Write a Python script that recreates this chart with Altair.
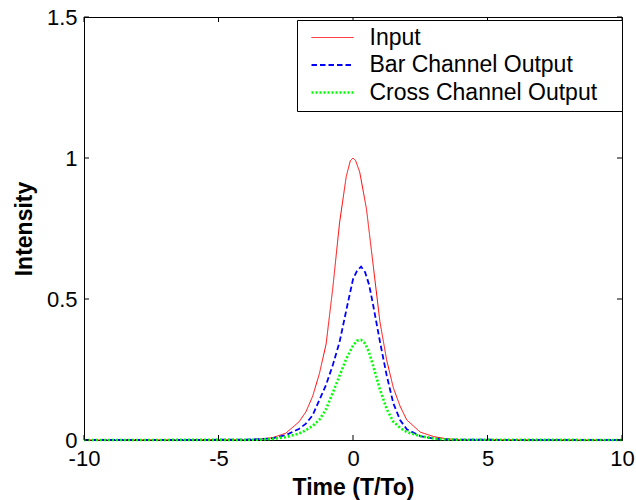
import altair as alt
import pandas as pd

series_names = ["Input", "Bar Channel Output", "Cross Channel Output"]
series_colors = ["#ff0000", "#0000ff", "#00ff00"]

x_ticks = [-10, -5, 0, 5, 10]
y_ticks = [0, 0.5, 1, 1.5]

input_t = [-10, -4, -3.5, -3, -2.5, -2, -1.75, -1.5, -1.25, -1, -0.75, -0.5, -0.25, -0.1, 0,
           0.1, 0.25, 0.5, 0.75, 1, 1.25, 1.5, 1.75, 2, 2.5, 3, 3.5, 4, 10]
input_y = [0, 0.001, 0.003, 0.008, 0.024, 0.065, 0.10, 0.155, 0.235, 0.34, 0.54, 0.77, 0.935, 0.99, 1.0,
           0.99, 0.95, 0.82, 0.62, 0.42, 0.284, 0.185, 0.12, 0.071, 0.028, 0.012, 0.004, 0.001, 0]

bar_t = [-10, -4, -3.5, -3, -2.5, -2, -1.75, -1.5, -1.25, -1, -0.75, -0.5, -0.25, 0, 0.15,
         0.3, 0.45, 0.6, 0.75, 1, 1.25, 1.5, 1.75, 2, 2.5, 3, 3.5, 4, 10]
bar_y = [0, 0.001, 0.003, 0.006, 0.017, 0.04, 0.058, 0.088, 0.142, 0.196, 0.266, 0.347, 0.46, 0.57, 0.60,
         0.615, 0.595, 0.55, 0.478, 0.35, 0.23, 0.13, 0.071, 0.038, 0.014, 0.005, 0.002, 0.001, 0]

cross_t = [-10, -4, -3.5, -3, -2.5, -2, -1.75, -1.5, -1.25, -1, -0.75, -0.5, -0.25, 0, 0.15,
           0.3, 0.45, 0.6, 0.75, 1, 1.25, 1.5, 1.75, 2, 2.5, 3, 3.5, 4, 10]
cross_y = [0, 0.0005, 0.001, 0.004, 0.01, 0.023, 0.035, 0.05, 0.072, 0.11, 0.168, 0.228, 0.288, 0.335, 0.352,
           0.355, 0.342, 0.31, 0.263, 0.18, 0.11, 0.065, 0.043, 0.028, 0.014, 0.005, 0.002, 0.001, 0]

rows = []
for name, ts, ys in [(series_names[0], input_t, input_y),
                     (series_names[1], bar_t, bar_y),
                     (series_names[2], cross_t, cross_y)]:
    for i, (t, y) in enumerate(zip(ts, ys)):
        rows.append({"t": t, "y": y, "series": name, "order": i})
df = pd.DataFrame(rows)

W, H = 538, 423
FONT = "Liberation Sans"

x_scale = alt.Scale(domain=[-10, 10], nice=False, zero=False)
y_scale = alt.Scale(domain=[0, 1.5], nice=False, zero=False)

x_axis = alt.Axis(values=x_ticks, title="Time (T/To)", labelExpr="'' + datum.value",
                  ticks=False, tickSize=0, grid=False, labelPadding=8, labelFlush=False,
                  labelOverlap=False,
                  titleX=W / 2, titleY=47, titleBaseline="middle", titleAlign="center")
y_axis = alt.Axis(values=y_ticks, title="Intensity", labelExpr="'' + datum.value",
                  ticks=False, tickSize=0, grid=False, labelPadding=7, labelFlush=False,
                  labelOverlap=False,
                  titleX=-60, titleY=211.5, titleAngle=270, titleBaseline="middle",
                  titleAlign="center")

legend = alt.Legend(title="\u00a0")

lines = alt.Chart(df).mark_line(strokeCap="butt").encode(
    x=alt.X("t:Q", scale=x_scale, axis=x_axis),
    y=alt.Y("y:Q", scale=y_scale, axis=y_axis),
    color=alt.Color("series:N", scale=alt.Scale(domain=series_names, range=series_colors), legend=legend),
    strokeDash=alt.StrokeDash("series:N", scale=alt.Scale(domain=series_names, range=[[1, 0], [5.5, 3], [2, 2]]), legend=legend),
    strokeWidth=alt.StrokeWidth("series:N", scale=alt.Scale(domain=series_names, range=[1, 2.6, 3]), legend=legend),
    order="order:Q",
)

xt = pd.DataFrame({"t": x_ticks})
yt = pd.DataFrame({"y": y_ticks})

tick_bottom = alt.Chart(xt).mark_rule(color="black", strokeWidth=1).encode(
    x=alt.X("t:Q", scale=x_scale, axis=x_axis), y=alt.value(H), y2=alt.value(H - 5))
tick_top = alt.Chart(xt).mark_rule(color="black", strokeWidth=1).encode(
    x=alt.X("t:Q", scale=x_scale, axis=x_axis), y=alt.value(0), y2=alt.value(5))
tick_left = alt.Chart(yt).mark_rule(color="black", strokeWidth=1).encode(
    y=alt.Y("y:Q", scale=y_scale, axis=y_axis), x=alt.value(0), x2=alt.value(5))
tick_right = alt.Chart(yt).mark_rule(color="black", strokeWidth=1).encode(
    y=alt.Y("y:Q", scale=y_scale, axis=y_axis), x=alt.value(W), x2=alt.value(W - 5))

chart = alt.layer(lines, tick_bottom, tick_top, tick_left, tick_right).properties(
    width=W, height=H,
    padding={"left": 84, "top": 17, "right": 14, "bottom": 60},
    autosize=alt.AutoSizeParams(type="none"),
    background="white",
).configure_view(
    stroke="black", strokeWidth=1
).configure_axis(
    domainColor="black", domainWidth=1,
    labelFont=FONT, labelFontSize=22, labelColor="black",
    titleFont=FONT, titleFontSize=23, titleFontWeight="bold", titleColor="black",
).configure_legend(
    orient="none", legendX=213, legendY=3,
    strokeColor="black", fillColor="white", padding=6,
    symbolType="stroke", symbolSize=1764, clipHeight=23,
    symbolOffset=7, labelOffset=14.5, rowPadding=3.5, labelLimit=400,
    labelFont=FONT, labelFontSize=23, labelColor="black",
    titleOrient="right", titleFont=FONT, titleFontSize=23, titlePadding=19,
    cornerRadius=0,
)

chart.save("out.html", embed_options={"renderer": "svg", "actions": False})
